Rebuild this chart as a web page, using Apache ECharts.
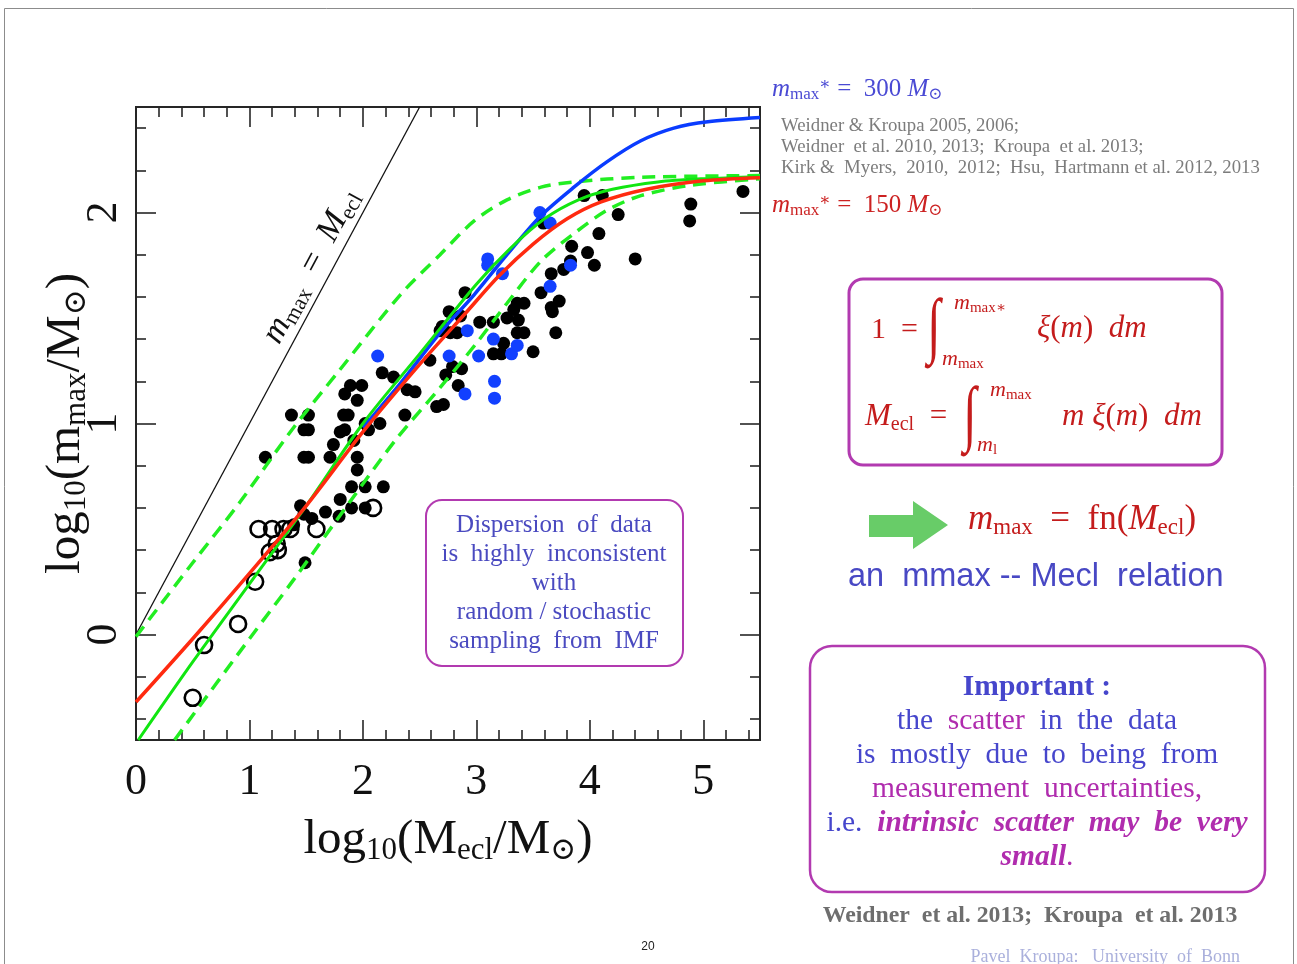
<!DOCTYPE html>
<html>
<head>
<meta charset="utf-8">
<script src="https://cdn.jsdelivr.net/npm/echarts@6/dist/echarts.min.js"></script>
<style>
  html, body { margin: 0; padding: 0; background: #ffffff; }
  #chart { width: 1297px; height: 964px; }
</style>
</head>
<body>
<div id="chart"></div>
<script>
// ---- data: log10 cluster mass vs log10 most massive star ----
const filledDots = [
  [1.14,0.84],[1.37,1.04],[1.52,1.04],[1.48,0.97],[1.52,0.97],[1.48,0.84],[1.52,0.84],
  [1.45,0.61],[1.48,0.57],[1.39,0.52],[1.49,0.34],[1.55,0.55],[1.67,0.58],[1.79,0.56],
  [1.80,0.64],[1.90,0.60],[2.02,0.60],[1.90,0.70],[2.02,0.70],[2.18,0.70],[1.95,0.78],
  [1.71,0.84],[1.95,0.84],[1.74,0.90],[1.92,0.92],[1.80,0.96],[1.84,0.97],[1.83,1.04],
  [1.87,1.04],[2.02,1.00],[2.05,0.97],[2.15,1.00],[2.37,1.04],[1.95,1.11],[1.84,1.14],
  [1.89,1.18],[1.99,1.18],[2.17,1.24],[2.27,1.22],[2.39,1.16],[2.46,1.15],[2.65,1.08],
  [2.71,1.09],[2.59,1.30],[2.73,1.23],[2.79,1.27],[2.87,1.26],[2.84,1.18],[2.70,1.46],
  [2.68,1.44],[2.77,1.43],[2.83,1.43],[2.76,1.53],[2.86,1.51],[2.90,1.62],[3.03,1.48],
  [3.15,1.48],[3.27,1.50],[3.33,1.54],[3.36,1.57],[3.42,1.57],[3.37,1.49],[3.36,1.43],
  [3.42,1.43],[3.24,1.38],[3.15,1.33],[3.22,1.33],[3.50,1.34],[3.57,1.62],[3.66,1.71],
  [3.66,1.55],[3.67,1.53],[3.73,1.58],[3.70,1.43],[3.77,1.73],[3.83,1.77],[3.84,1.84],
  [3.98,1.81],[4.04,1.75],[4.08,1.90],[3.59,1.95],[3.95,2.08],[4.11,2.08],[4.25,1.99],
  [4.40,1.78],[4.89,2.04],[4.88,1.96],[5.35,2.10]
];
const openCircles = [
  [0.50,-0.30],[0.60,-0.05],[0.90,0.05],[1.05,0.25],[1.08,0.50],[1.20,0.50],[1.30,0.50],
  [1.36,0.50],[1.59,0.50],[2.09,0.60],[1.24,0.43],[1.18,0.39],[1.25,0.40]
];
const blueDots = [
  [2.13,1.32],[2.76,1.32],[2.90,1.14],[2.92,1.44],[3.02,1.32],[3.10,1.78],[3.10,1.75],
  [3.15,1.40],[3.16,1.20],[3.16,1.12],[3.23,1.71],[3.31,1.33],[3.36,1.37],[3.56,2.00],
  [3.65,1.95],[3.65,1.65],[3.83,1.75]
];
const identityLine = [[0,0],[2.5,2.5]];
const curve150 = [
  [0,-0.32],[0.5,-0.02],[1.0,0.29],[1.5,0.61],[2.0,0.96],[2.5,1.28],[2.9,1.52],[3.2,1.70],
  [3.5,1.85],[3.8,1.97],[4.1,2.05],[4.5,2.11],[5.0,2.15],[5.5,2.165]
];
const curveFit = [
  [0.02,-0.5],[0.5,-0.13],[1.0,0.24],[1.5,0.61],[2.0,1.00],[2.5,1.33],[3.0,1.66],[3.3,1.83],
  [3.6,1.97],[3.9,2.06],[4.2,2.11],[4.6,2.145],[5.0,2.16],[5.5,2.17]
];
const curveUpper = [
  [0,-0.01],[0.5,0.34],[0.92,0.63],[1.36,0.96],[1.79,1.25],[2.33,1.61],[2.68,1.80],
  [2.98,1.96],[3.27,2.06],[3.57,2.12],[3.86,2.145],[4.45,2.167],[5.5,2.175]
];
const curveLower = [
  [0.34,-0.5],[1.0,-0.02],[1.39,0.26],[1.9,0.64],[2.3,0.93],[2.68,1.17],[3.0,1.38],
  [3.27,1.57],[3.57,1.77],[3.86,1.90],[4.15,2.01],[4.45,2.08],[4.9,2.13],[5.5,2.16]
];
const curve300 = [
  [2.0,0.98],[2.33,1.19],[2.68,1.43],[2.98,1.61],[3.27,1.80],
  [3.56,1.98],[3.86,2.12],[4.15,2.24],[4.45,2.34],[4.74,2.40],[5.04,2.43],[5.5,2.45]
];
const xTickLabels = [0, 1, 2, 3, 4, 5];
const yTickLabels = [0, 1, 2];

// minor ticks every 0.2 between the labelled ones
function minorTicks(from, to, step) {
  const out = [];
  for (let i = Math.round(from / step); i <= Math.round(to / step); i++) {
    const v = +(i * step).toFixed(2);
    if (Math.abs(v - Math.round(v)) > 1e-6) out.push(v);
  }
  return out;
}
const xMinor = minorTicks(0, 5.4, 0.2);
const yMinor = minorTicks(-0.4, 2.4, 0.2);

const SERIF = '"Liberation Serif", "DejaVu Serif", serif';
const SANS = '"Liberation Sans", Arial, sans-serif';
const AXC = '#262626';
const BLUE_TXT = '#4646cc';
const MAG = '#b02cae';
const RED_TXT = '#c41c1c';
const BOX = '#b23ab0';

function axisLineStyle() { return { show: true, onZero: false, lineStyle: { color: AXC, width: 2 } }; }

function xAxisDef(position, ticks, len, labels) {
  return {
    type: 'value', position: position, min: 0, max: 5.5, gridIndex: 0,
    axisLine: axisLineStyle(),
    axisTick: { show: true, inside: true, length: len, customValues: ticks, lineStyle: { color: AXC, width: 1.6 } },
    axisLabel: labels ? {
      show: true, customValues: labels, margin: 20, color: '#111',
      fontFamily: SERIF, fontSize: 44
    } : { show: false },
    splitLine: { show: false }
  };
}
function yAxisDef(position, ticks, len, labels) {
  return {
    type: 'value', position: position, min: -0.5, max: 2.5, gridIndex: 0,
    axisLine: axisLineStyle(),
    axisTick: { show: true, inside: true, length: len, customValues: ticks, lineStyle: { color: AXC, width: 1.6 } },
    axisLabel: labels ? {
      show: true, customValues: labels, margin: 10, rotate: 90, color: '#111',
      fontFamily: SERIF, fontSize: 44
    } : { show: false },
    splitLine: { show: false }
  };
}

const xAxes = [
  xAxisDef('bottom', xTickLabels, 20, xTickLabels),
  xAxisDef('bottom', xMinor, 10, null),
  xAxisDef('top', xTickLabels, 20, null),
  xAxisDef('top', xMinor, 10, null)
];
const yAxes = [
  yAxisDef('left', yTickLabels, 20, yTickLabels),
  yAxisDef('left', yMinor, 10, null),
  yAxisDef('right', yTickLabels, 20, null),
  yAxisDef('right', yMinor, 10, null)
];

const titleRich = {
  t: { fontFamily: SERIF, fontSize: 49, lineHeight: 50, verticalAlign: 'top', color: '#111' },
  s: { fontFamily: SERIF, fontSize: 31, lineHeight: 8, verticalAlign: 'bottom', color: '#111' }
};
Object.assign(xAxes[0], {
  name: '{t|log}{s|10}{t|(M}{s|ecl}{t|/M}{s|⊙}{t|)}',
  nameLocation: 'middle', nameGap: 76,
  nameTextStyle: { rich: titleRich }
});
Object.assign(yAxes[0], {
  name: '{t|log}{s|10}{t|(m}{s|max}{t|/M}{s|⊙}{t|)}',
  nameLocation: 'middle', nameGap: 44, nameRotate: 90, nameMoveOverlap: false,
  nameTextStyle: { rich: titleRich }
});

function curve(data, color, width, dashed, z) {
  return {
    type: 'line', data: data, showSymbol: false, symbol: 'none', smooth: 0.3,
    z: z, silent: true,
    lineStyle: { color: color, width: width, type: dashed ? [13, 8] : 'solid' }
  };
}

// ---- slide text helpers ----
function txt(x, y, text, style, extra) {
  return Object.assign({
    type: 'text', x: x, y: y, silent: true,
    style: Object.assign({
      text: text, fontFamily: SERIF, fontSize: 24, fill: '#000',
      align: 'left', textAlign: 'left', verticalAlign: 'middle', textVerticalAlign: 'middle'
    }, style)
  }, extra || {});
}
function mathRich(size, color) {
  return {
    i: { fontFamily: SERIF, fontStyle: 'italic', fontSize: size, lineHeight: size + 2, verticalAlign: 'top', fill: color },
    t: { fontFamily: SERIF, fontSize: size, lineHeight: size + 2, verticalAlign: 'top', fill: color },
    s: { fontFamily: SERIF, fontSize: Math.round(size * 0.66), lineHeight: 6, verticalAlign: 'bottom', fill: color },
    u: { fontFamily: SERIF, fontSize: Math.round(size * 0.66), lineHeight: size + 2, verticalAlign: 'top', fill: color }
  };
}
function box(x, y, w, h, r, width) {
  return {
    type: 'rect', silent: true, shape: { x: x, y: y, width: w, height: h, r: r },
    style: { fill: 'rgba(0,0,0,0)', stroke: BOX, lineWidth: width }
  };
}
function centerLine(x, y, text, size, rich) {
  return txt(x, y, text, { fontSize: size, align: 'center', textAlign: 'center', rich: rich });
}
function integral(x, y) {
  return txt(x, y, '∫', { fontSize: 44, fontStyle: 'italic', fill: RED_TXT, align: 'center', textAlign: 'center' },
    { scaleY: 1.65, scaleX: 1.1 });
}

const boxRich = {
  b: { fontFamily: SERIF, fontSize: 29.5, fill: BLUE_TXT },
  m: { fontFamily: SERIF, fontSize: 29.5, fill: MAG },
  bb: { fontFamily: SERIF, fontSize: 29.5, fontWeight: 'bold', fill: BLUE_TXT },
  mi: { fontFamily: SERIF, fontSize: 29.5, fontWeight: 'bold', fontStyle: 'italic', fill: MAG }
};

const graphics = [
  // slide frame
  { type: 'polyline', silent: true, shape: { points: [[4.5, 975], [4.5, 8.5], [1293.5, 8.5], [1293.5, 975]] },
    style: { stroke: '#8c8c8c', lineWidth: 1, fill: null } },

  // model annotations
  txt(772, 90, '{i|m}{s|max}{u|∗}{t| =  300 }{i|M}{s|⊙}', { rich: mathRich(25, '#4a4ad4') }),
  txt(781, 126, 'Weidner & Kroupa 2005, 2006;', { fontSize: 18.8, fill: '#7c7c7c' }),
  txt(781, 147, 'Weidner  et al. 2010, 2013;  Kroupa  et al. 2013;', { fontSize: 18.8, fill: '#7c7c7c' }),
  txt(781, 168, 'Kirk &  Myers,  2010,  2012;  Hsu,  Hartmann et al. 2012, 2013', { fontSize: 18.8, fill: '#7c7c7c' }),
  txt(772, 206, '{i|m}{s|max}{u|∗}{t| =  150 }{i|M}{s|⊙}', { rich: mathRich(25, '#cc2222') }),

  // integral definitions
  box(849, 279, 373, 186, 14, 3),
  txt(871, 330, '1  =', { fontSize: 30, fill: RED_TXT }),
  integral(934, 330),
  txt(954, 304, '{i|m}{s|max∗}', { rich: mathRich(22, RED_TXT) }),
  txt(942, 360, '{i|m}{s|max}', { rich: mathRich(22, RED_TXT) }),
  txt(1037, 330, '{i|ξ}{t|(}{i|m}{t|)  }{i|dm}', { rich: mathRich(31, RED_TXT) }),
  txt(865, 418, '{i|M}{s|ecl}{t|  =}', { rich: mathRich(31, RED_TXT) }),
  integral(970, 418),
  txt(990, 391, '{i|m}{s|max}', { rich: mathRich(22, RED_TXT) }),
  txt(977, 446, '{i|m}{s|l}', { rich: mathRich(22, RED_TXT) }),
  txt(1062, 418, '{i|m}{t| }{i|ξ}{t|(}{i|m}{t|)  }{i|dm}', { rich: mathRich(31, RED_TXT) }),

  // arrow and relation
  { type: 'polygon', silent: true,
    shape: { points: [[869, 515], [913, 515], [913, 501], [948, 525], [913, 549], [913, 537], [869, 537]] },
    style: { fill: '#68cc68' } },
  txt(968, 521, '{i|m}{s|max}{t|  =  fn(}{i|M}{s|ecl}{t|)}', { rich: mathRich(35, RED_TXT) }),
  txt(848, 577, 'an  mmax -- Mecl  relation', { fontFamily: SANS, fontSize: 32.5, fill: '#4848c4' }),

  // note box
  box(810, 646, 455, 246, 22, 2.5),
  centerLine(1037, 687, '{bb|Important :}', 29.5, boxRich),
  centerLine(1037, 721, '{b|the  }{m|scatter}{b|  in  the  data}', 29.5, boxRich),
  centerLine(1037, 755, '{b|is  mostly  due  to  being  from}', 29.5, boxRich),
  centerLine(1037, 789, '{m|measurement  uncertainties,}', 29.5, boxRich),
  centerLine(1037, 823, '{b|i.e.  }{mi|intrinsic  scatter  may  be  very}', 29.5, boxRich),
  centerLine(1037, 857, '{mi|small}{m|.}', 29.5, boxRich),
  txt(1030, 916, 'Weidner  et al. 2013;  Kroupa  et al. 2013', { fontSize: 23.8, fontWeight: 'bold', fill: '#6e6e6e', align: 'center', textAlign: 'center' }),
  txt(1240, 957, 'Pavel  Kroupa:   University  of  Bonn', { fontSize: 18, fill: '#aab0dc', align: 'right', textAlign: 'right' }),
  txt(648, 947, '20', { fontFamily: SANS, fontSize: 12, fill: '#222', align: 'center', textAlign: 'center' }),

  // dispersion box inside the plot
  box(426, 500, 257, 166, 16, 2),
  centerLine(554, 525, 'Dispersion  of  data', 25, null),
  centerLine(554, 554, 'is  highly  inconsistent', 25, null),
  centerLine(554, 583, 'with', 25, null),
  centerLine(554, 612, 'random / stochastic', 25, null),
  centerLine(554, 641, 'sampling  from  IMF', 25, null)
];
graphics.slice(-5).forEach(g => { g.style.fill = '#4a4ac0'; });

const option = {
  animation: false,
  backgroundColor: '#ffffff',
  grid: { left: 136, top: 107, width: 624, height: 633, containLabel: false },
  xAxis: xAxes,
  yAxis: yAxes,
  series: [
    curve(identityLine, '#111111', 1.3, false, 3),
    {
      type: 'scatter', data: filledDots, symbol: 'circle', symbolSize: 13, z: 2, silent: true,
      itemStyle: { color: '#000000', opacity: 1 }
    },
    {
      type: 'scatter', data: blueDots, symbol: 'circle', symbolSize: 13, z: 2, silent: true,
      itemStyle: { color: '#1240ff', opacity: 1 }
    },
    {
      type: 'scatter', data: openCircles, symbol: 'circle', symbolSize: 16, z: 2, silent: true,
      itemStyle: { color: 'rgba(0,0,0,0)', borderColor: '#000000', borderWidth: 2.6, opacity: 1 }
    },
    curve(curveUpper, '#22ee22', 3.5, true, 4),
    curve(curveLower, '#22ee22', 3.5, true, 4),
    curve(curve300, '#0a3cff', 3.5, false, 5),
    curve(curveFit, '#11e611', 3, false, 6),
    curve(curve150, '#ff2a10', 3.5, false, 7)
  ],
  graphic: graphics
};

const chart = echarts.init(document.getElementById('chart'), null, { renderer: 'canvas' });
chart.setOption(option);

// label running along the m_max = M_ecl line, placed from the axis scales
const a = chart.convertToPixel({ xAxisIndex: 0, yAxisIndex: 0 }, identityLine[0]);
const b = chart.convertToPixel({ xAxisIndex: 0, yAxisIndex: 0 }, identityLine[1]);
const ang = Math.atan2(a[1] - b[1], b[0] - a[0]);
const mid = chart.convertToPixel({ xAxisIndex: 0, yAxisIndex: 0 }, [1.7, 1.7]);
const off = 19;
const lx = mid[0] - off * Math.sin(ang), ly = mid[1] - off * Math.cos(ang);
chart.setOption({
  graphic: graphics.concat([{
    type: 'text', silent: true, x: lx, y: ly, rotation: ang,
    style: {
      text: '{i|m}{s|max}{t|  =  }{i|M}{s|ecl}', rich: mathRich(34, '#111111'),
      align: 'center', textAlign: 'center', verticalAlign: 'middle', textVerticalAlign: 'middle'
    }
  }])
});
</script>
</body>
</html>
